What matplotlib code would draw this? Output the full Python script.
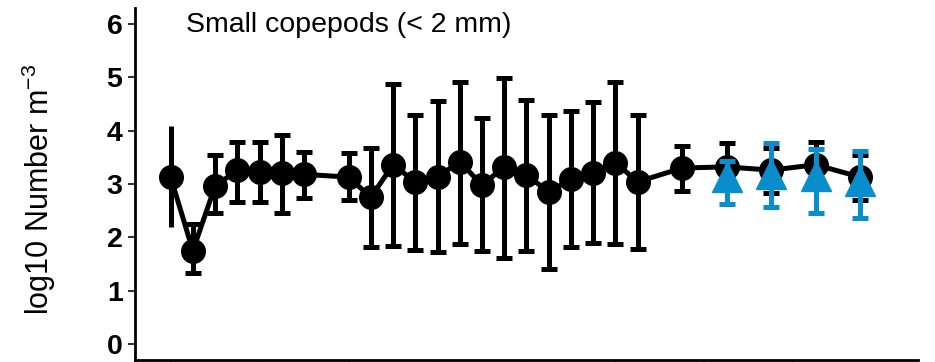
import numpy as np
import matplotlib
matplotlib.use("Agg")
import matplotlib.pyplot as plt

plt.rcParams['font.family'] = ['Liberation Sans', 'DejaVu Sans']
plt.rcParams['mathtext.fontset'] = 'custom'
plt.rcParams['mathtext.rm'] = 'Liberation Sans'

# Small copepods, net samples (black) and second method (blue)
day = np.array([0, 1, 2, 3, 4, 5, 6, 8, 9, 10, 11, 12, 13, 14, 15, 16,
                17, 18, 19, 20, 21, 23, 25, 27, 29, 31])
mean = np.array([3.13, 1.75, 2.96, 3.26, 3.23, 3.20, 3.18, 3.13, 2.75, 3.36,
                 3.04, 3.13, 3.42, 2.98, 3.32, 3.17, 2.85, 3.09, 3.20, 3.40,
                 3.04, 3.30, 3.32, 3.26, 3.36, 3.13])
low = np.array([2.19, 1.34, 2.45, 2.66, 2.66, 2.45, 2.73, 2.70, 1.81, 1.83,
                1.77, 1.72, 1.87, 1.75, 1.62, 1.74, 1.40, 1.81, 1.89, 1.87,
                1.79, 2.87, 2.88, 2.83, 2.93, 2.70])
high = np.array([4.08, 2.25, 3.55, 3.78, 3.78, 3.92, 3.60, 3.58, 3.68, 4.87,
                 4.30, 4.55, 4.92, 4.23, 4.98, 4.58, 4.30, 4.36, 4.53, 4.92,
                 4.30, 3.72, 3.77, 3.68, 3.79, 3.55])

day2 = np.array([25, 27, 29, 31])
mean2 = np.array([3.13, 3.19, 3.15, 3.06])
low2 = np.array([2.62, 2.57, 2.45, 2.36])
high2 = np.array([3.43, 3.77, 3.66, 3.62])

blue = '#0a8dcc'

fig = plt.figure(figsize=(9.35, 3.62), dpi=100)
ax = fig.add_axes([0.1444, 0.0055, 0.8374, 0.9725])

lw = 3.6
yerr = np.vstack([mean - low, high - mean])
ax.errorbar(day[:1], mean[:1], yerr=yerr[:, :1], fmt='none', ecolor='black',
            elinewidth=lw, capsize=0, zorder=2)
ax.errorbar(day[1:], mean[1:], yerr=yerr[:, 1:], fmt='none', ecolor='black',
            elinewidth=lw, capsize=6, capthick=lw, zorder=2)
ax.plot(day, mean, color='black', lw=lw, marker='o', ms=17, zorder=3)

yerr2 = np.vstack([mean2 - low2, high2 - mean2])
ax.errorbar(day2, mean2, yerr=yerr2, fmt='^', color=blue, ms=22,
            elinewidth=lw, capsize=6, capthick=lw, zorder=4)

ax.text(0.67, 5.85, 'Small copepods (< 2 mm)', fontsize=20.5,
        ha='left', va='baseline')

ax.set_xlim(-1.6, 33.6)
ax.set_ylim(-0.3, 6.3)
ax.set_xticks(np.arange(0, 33, 4))
ax.set_yticks(range(0, 7))
ax.tick_params(axis='y', length=5, width=1.5, color='#333333', pad=4,
               labelsize=20.5)
ax.tick_params(axis='x', length=5, width=1.5, color='#333333',
               labelbottom=False)
for lab in ax.get_yticklabels():
    lab.set_fontweight('bold')

for side in ['top', 'right']:
    ax.spines[side].set_visible(False)
for side in ['left', 'bottom']:
    ax.spines[side].set_linewidth(2)

ax.set_ylabel(r'log10 Number m$^{\mathregular{-3}}$', fontsize=22)
ax.yaxis.set_label_coords(-0.099, 0.484)

fig.savefig('out.png', dpi=100)
